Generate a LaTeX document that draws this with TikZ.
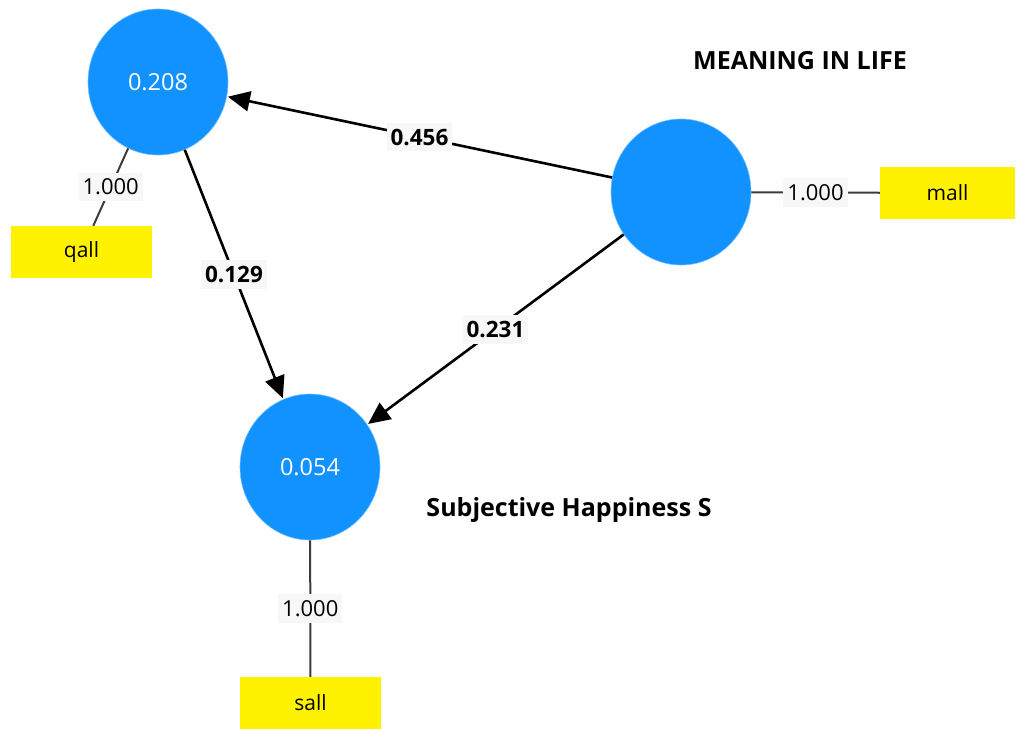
\documentclass[tikz,border=0pt]{standalone}
\usepackage{fontspec}
\setmainfont{Open Sans}
\usetikzlibrary{shapes.geometric,arrows.meta}
\definecolor{latblue}{RGB}{17,146,255}
\definecolor{labbg}{RGB}{247,247,247}
\definecolor{loadgray}{RGB}{60,60,60}
\tikzset{
  latent/.style={ellipse,fill=latblue,draw=latblue!60!white,line width=0.6pt,minimum width=140pt,minimum height=146pt,inner sep=0pt,text=white,font=\fontsize{23.5}{27}\selectfont},
  indicator/.style={rectangle,fill=yellow,minimum width=141pt,minimum height=52pt,inner sep=0pt,font=\fontsize{21}{25}\selectfont},
  pathlab/.style={fill=labbg,inner xsep=4pt,inner ysep=6pt,font=\bfseries\fontsize{22.5}{26}\selectfont},
  loadlab/.style={fill=labbg,inner xsep=4pt,inner ysep=6pt,font=\fontsize{22}{26}\selectfont},
  pathedge/.style={line width=2.6pt,-{Triangle[length=22pt,width=20pt]},shorten >=1pt},
  loadedge/.style={line width=2pt,draw=loadgray},
  title/.style={font=\bfseries\fontsize{25}{29}\selectfont}
}
\begin{document}
\begin{tikzpicture}[x=1pt,y=-1pt]
\useasboundingbox (0,0) rectangle (1016,729);
\node[latent] (Q) at (158,82) {0.208};
\node[latent] (M) at (681,192) {};
\node[latent] (S) at (310,467) {0.054};
\node[indicator] (qall) at (81.5,252) {qall};
\node[indicator,minimum width=135pt] (mall) at (947.5,193) {mall};
\node[indicator] (sall) at (310.5,703) {sall};
\node[title] (tM) at (800,61) {MEANING IN LIFE};
\node[title] (tS) at (569,510) {Subjective Happiness S};
\draw[pathedge] (M) -- node[pathlab,midway] (l1) {0.456} (Q);
\draw[pathedge] (M) -- node[pathlab,midway] (l2) {0.231} (S);
\draw[pathedge] (Q) -- node[pathlab,midway] (l3) {0.129} (S);
\draw[loadedge] (Q) -- node[loadlab,midway] (l4) {1.000} (qall);
\draw[loadedge] (M) -- node[loadlab,midway] (l5) {1.000} (mall);
\draw[loadedge] (S) -- node[loadlab,midway] (l6) {1.000} (sall);
\end{tikzpicture}
\end{document}
